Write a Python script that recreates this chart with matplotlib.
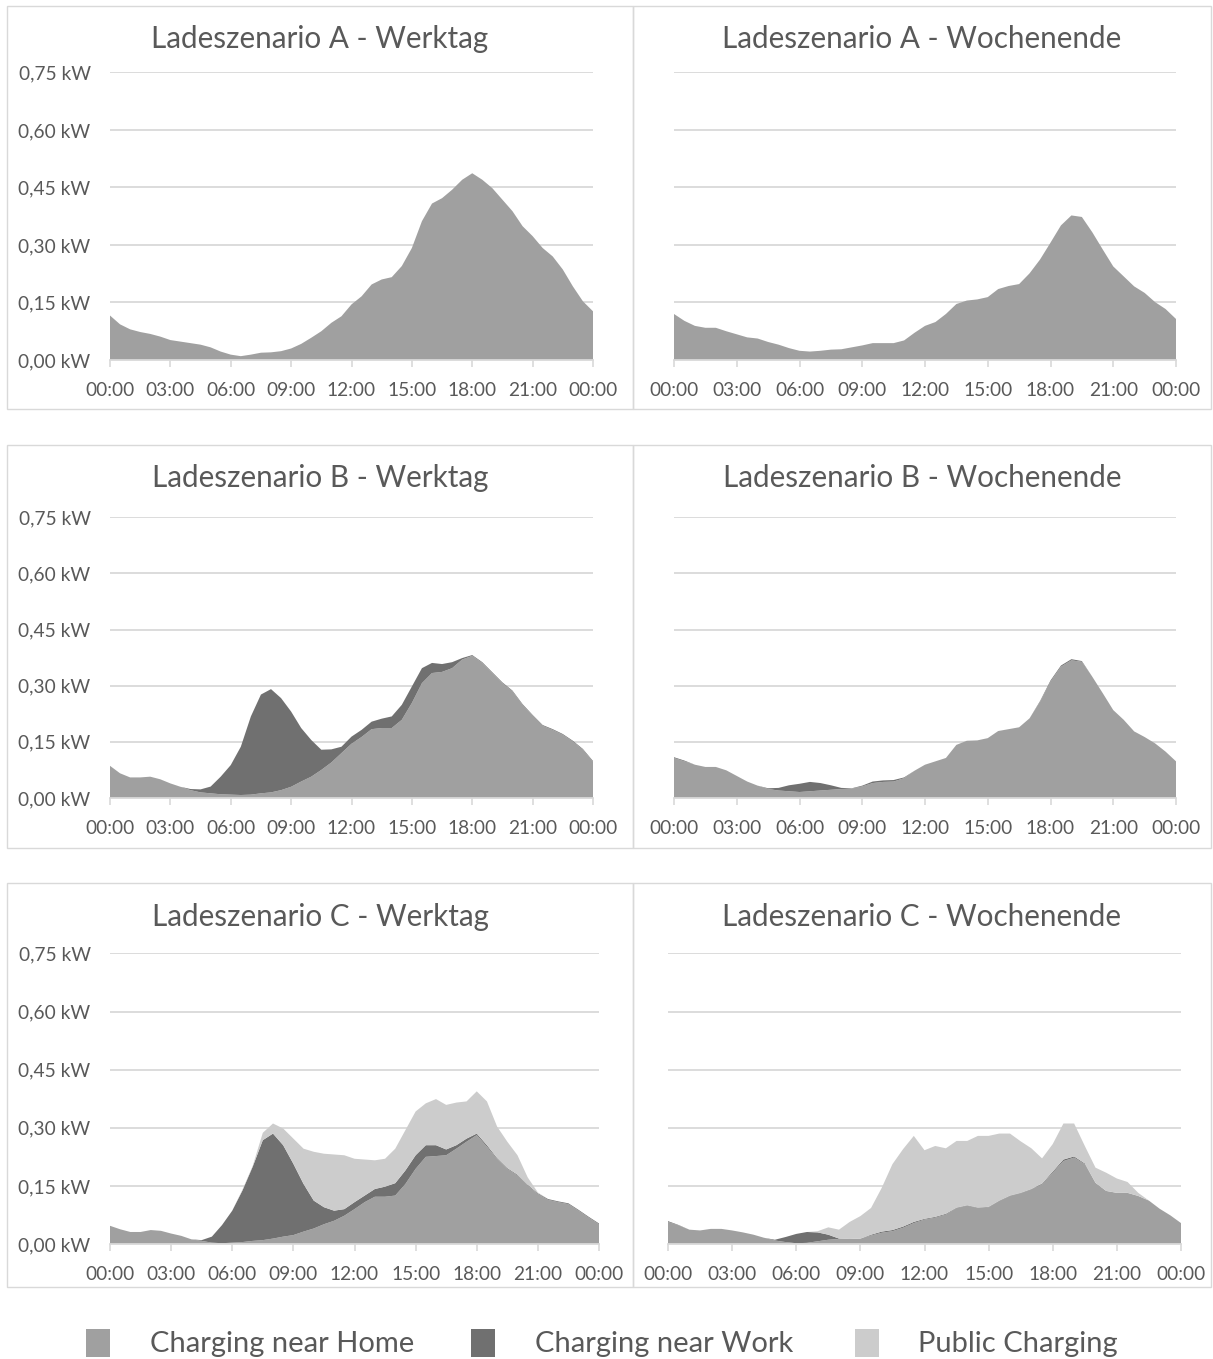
import numpy as np
import matplotlib
matplotlib.use("Agg")
import matplotlib.pyplot as plt
from matplotlib.patches import Rectangle

plt.rcParams['font.family'] = ['Lato', 'DejaVu Sans']

# ---------------- data (kW, every 30 minutes from 00:00 to 24:00) ----------------
hours = np.arange(0, 24.5, 0.5)
xtick_hours = [0, 3, 6, 9, 12, 15, 18, 21, 24]
xtick_labels = ["00:00", "03:00", "06:00", "09:00", "12:00", "15:00", "18:00", "21:00", "00:00"]
ytick_values = [0.0, 0.15, 0.30, 0.45, 0.60, 0.75]
ytick_labels = ["0,00 kW", "0,15 kW", "0,30 kW", "0,45 kW", "0,60 kW", "0,75 kW"]
series_names = ["Charging near Home", "Charging near Work", "Public Charging"]

titles = [["Ladeszenario A - Werktag", "Ladeszenario A - Wochenende"],
          ["Ladeszenario B - Werktag", "Ladeszenario B - Wochenende"],
          ["Ladeszenario C - Werktag", "Ladeszenario C - Wochenende"]]

A_werk_home = [0.116, 0.093, 0.080, 0.073, 0.068, 0.061, 0.052, 0.048, 0.044, 0.040, 0.033, 0.022,
               0.014, 0.010, 0.014, 0.019, 0.020, 0.023, 0.030, 0.042, 0.058, 0.075, 0.097, 0.114,
               0.145, 0.166, 0.197, 0.210, 0.216, 0.245, 0.292, 0.362, 0.408, 0.422, 0.444, 0.470,
               0.487, 0.470, 0.448, 0.418, 0.388, 0.349, 0.323, 0.292, 0.270, 0.236, 0.192, 0.153, 0.127]
A_werk_work = [0.0] * 49
A_werk_public = [0.0] * 49

A_woch_home = [0.120, 0.102, 0.089, 0.084, 0.084, 0.075, 0.067, 0.059, 0.056, 0.047, 0.040, 0.031,
               0.024, 0.022, 0.024, 0.027, 0.028, 0.033, 0.038, 0.044, 0.044, 0.044, 0.051, 0.071,
               0.089, 0.099, 0.120, 0.146, 0.155, 0.158, 0.164, 0.185, 0.193, 0.198, 0.226, 0.262,
               0.306, 0.351, 0.377, 0.373, 0.333, 0.288, 0.244, 0.218, 0.192, 0.175, 0.151, 0.133, 0.107]
A_woch_work = [0.0] * 49
A_woch_public = [0.0] * 49

B_werk_home = [0.086, 0.066, 0.055, 0.055, 0.057, 0.050, 0.039, 0.030, 0.021, 0.015, 0.0125, 0.010,
               0.009, 0.008, 0.009, 0.0125, 0.015, 0.021, 0.030, 0.044, 0.057, 0.075, 0.095, 0.120,
               0.145, 0.163, 0.184, 0.187, 0.187, 0.209, 0.254, 0.307, 0.334, 0.337, 0.347, 0.370,
               0.380, 0.361, 0.334, 0.307, 0.285, 0.249, 0.220, 0.193, 0.182, 0.169, 0.151, 0.129, 0.097]
B_werk_work = [0, 0, 0, 0, 0, 0, 0, 0, 0.003, 0.008, 0.018, 0.047,
               0.079, 0.129, 0.209, 0.264, 0.276, 0.246, 0.201, 0.143, 0.098, 0.054, 0.035, 0.017,
               0.019, 0.019, 0.020, 0.025, 0.031, 0.040, 0.044, 0.040, 0.027, 0.021, 0.016, 0.004,
               0.002, 0.002, 0.002, 0.002, 0.002, 0.002, 0.002, 0.002, 0.002, 0.002, 0.002, 0.002, 0.002]
B_werk_public = [0.0] * 49

B_woch_home = [0.107, 0.098, 0.089, 0.083, 0.083, 0.074, 0.059, 0.044, 0.033, 0.024, 0.020, 0.018,
               0.016, 0.018, 0.020, 0.022, 0.024, 0.025, 0.031, 0.040, 0.043, 0.044, 0.053, 0.073,
               0.089, 0.098, 0.107, 0.142, 0.153, 0.154, 0.160, 0.179, 0.184, 0.189, 0.213, 0.257,
               0.311, 0.351, 0.368, 0.364, 0.324, 0.280, 0.235, 0.209, 0.178, 0.163, 0.146, 0.124, 0.098]
B_woch_work = [0.002, 0.002, 0, 0, 0, 0, 0, 0, 0, 0.002, 0.007, 0.016,
               0.022, 0.025, 0.020, 0.012, 0.003, 0.001, 0.002, 0.004, 0.004, 0.004, 0.002, 0,
               0, 0, 0, 0, 0, 0, 0, 0, 0, 0, 0, 0.002,
               0.003, 0.003, 0.003, 0.002, 0, 0, 0, 0, 0, 0, 0, 0, 0]
B_woch_public = [0.0] * 49

C_werk_home = [0.047, 0.038, 0.031, 0.031, 0.036, 0.034, 0.027, 0.021, 0.012, 0.008, 0.0035, 0.002,
               0.0035, 0.005, 0.008, 0.010, 0.014, 0.019, 0.023, 0.032, 0.040, 0.051, 0.060, 0.073,
               0.090, 0.108, 0.122, 0.122, 0.125, 0.155, 0.194, 0.225, 0.227, 0.229, 0.246, 0.264,
               0.281, 0.251, 0.220, 0.194, 0.177, 0.151, 0.129, 0.114, 0.108, 0.103, 0.086, 0.068, 0.051]
C_werk_work = [0, 0, 0, 0, 0, 0, 0, 0, 0, 0.002, 0.0155, 0.047,
               0.0825, 0.133, 0.191, 0.258, 0.271, 0.236, 0.184, 0.123, 0.072, 0.044, 0.026, 0.017,
               0.018, 0.017, 0.020, 0.026, 0.032, 0.035, 0.035, 0.030, 0.028, 0.015, 0.009, 0.008,
               0.004, 0.004, 0.002, 0.002, 0.002, 0.002, 0.002, 0.002, 0.002, 0.002, 0.002, 0.002, 0.002]
C_werk_public = [0, 0, 0, 0, 0, 0, 0, 0, 0, 0, 0, 0,
                 0, 0.002, 0.002, 0.019, 0.026, 0.043, 0.065, 0.091, 0.126, 0.138, 0.145, 0.139,
                 0.112, 0.093, 0.074, 0.072, 0.089, 0.104, 0.113, 0.108, 0.119, 0.115, 0.110, 0.096,
                 0.109, 0.113, 0.081, 0.068, 0.050, 0.019, 0.002, 0, 0, 0, 0, 0, 0]

C_woch_home = [0.057, 0.048, 0.037, 0.035, 0.039, 0.039, 0.035, 0.030, 0.024, 0.016, 0.009, 0.005,
               0.002, 0.003, 0.007, 0.011, 0.013, 0.013, 0.014, 0.022, 0.029, 0.033, 0.042, 0.054,
               0.063, 0.068, 0.076, 0.093, 0.099, 0.093, 0.095, 0.111, 0.124, 0.131, 0.141, 0.154,
               0.184, 0.214, 0.223, 0.206, 0.158, 0.137, 0.132, 0.132, 0.124, 0.112, 0.091, 0.074, 0.054]
C_woch_work = [0.002, 0.001, 0, 0, 0, 0, 0, 0, 0, 0, 0.002, 0.013,
               0.024, 0.028, 0.023, 0.013, 0.001, 0, 0, 0.002, 0.003, 0.003, 0.003, 0.003,
               0.002, 0.002, 0.002, 0.001, 0.001, 0.001, 0.001, 0.001, 0.001, 0.001, 0.001, 0.002,
               0.003, 0.004, 0.003, 0.002, 0, 0, 0, 0, 0, 0, 0, 0, 0]
C_woch_public = [0, 0, 0, 0, 0, 0, 0, 0, 0, 0, 0, 0,
                 0, 0, 0.003, 0.019, 0.023, 0.044, 0.058, 0.069, 0.113, 0.170, 0.200, 0.222,
                 0.177, 0.183, 0.169, 0.172, 0.166, 0.185, 0.183, 0.173, 0.160, 0.133, 0.105, 0.065,
                 0.071, 0.093, 0.085, 0.045, 0.039, 0.047, 0.037, 0.028, 0.008, 0, 0, 0, 0]

panels = [[(A_werk_home, A_werk_work, A_werk_public), (A_woch_home, A_woch_work, A_woch_public)],
          [(B_werk_home, B_werk_work, B_werk_public), (B_woch_home, B_woch_work, B_woch_public)],
          [(C_werk_home, C_werk_work, C_werk_public), (C_woch_home, C_woch_work, C_woch_public)]]

# ---------------- styling / layout ----------------
colors = ["#a0a0a0", "#707070", "#cccccc"]
grid_c = "#d9d9d9"
text_c = "#595959"
W, H = 1213, 1359

fig = plt.figure(figsize=(W / 100, H / 100), dpi=100)

def fx(x):
    return x / W

def fy(y):
    return 1 - y / H

axes_px = [[(110, 72, 593, 360), (674, 72, 1176, 360)],
           [(110, 517, 593, 798), (674, 517, 1176, 798)],
           [(110, 953, 599, 1244), (668, 953, 1181, 1244)]]
box_rows = [(6, 409), (445, 848), (883, 1287)]
box_cols = [(7, 633), (633, 1211)]
title_y = [39, 478, 917]

for r in range(3):
    for c in range(2):
        x0, y0 = box_cols[c][0], box_rows[r][0]
        x1, y1 = box_cols[c][1], box_rows[r][1]
        fig.add_artist(Rectangle((fx(x0), fy(y1)), fx(x1 - x0), (y1 - y0) / H,
                                 transform=fig.transFigure, fill=False,
                                 edgecolor=grid_c, linewidth=1.0))
        fig.text(fx((x0 + x1) / 2), fy(title_y[r]), titles[r][c], ha="center", va="center",
                 fontsize=21.3, color=text_c)

        l, t, rr, b = axes_px[r][c]
        ax = fig.add_axes([fx(l), fy(b), fx(rr - l), (b - t) / H])
        home, work, public = panels[r][c]
        ax.stackplot(hours, home, work, public, colors=colors, linewidth=0)
        ax.set_xlim(0, 24)
        ax.set_ylim(0, 0.751)
        ax.set_axisbelow(True)
        ax.set_yticks(ytick_values)
        ax.grid(axis="y", color=grid_c, linewidth=1.3)
        for s in ["top", "right", "left"]:
            ax.spines[s].set_visible(False)
        ax.spines["bottom"].set_color(grid_c)
        ax.spines["bottom"].set_linewidth(1.3)
        ax.set_xticks(xtick_hours)
        ax.set_xticklabels(xtick_labels)
        ax.tick_params(axis="x", direction="out", length=5, width=1.2, color=grid_c,
                       labelsize=13.8, labelcolor=text_c, pad=11)
        if c == 0:
            ax.set_yticklabels(ytick_labels)
            ax.tick_params(axis="y", length=0, labelsize=13.8, labelcolor=text_c, pad=14)
        else:
            ax.tick_params(axis="y", length=0, labelleft=False)

# ---------------- legend ----------------
leg_sq_x = [86, 471, 855]
leg_txt_x = [150, 535, 918]
for i, name in enumerate(series_names):
    fig.add_artist(Rectangle((fx(leg_sq_x[i]), fy(1357)), fx(24), 28 / H,
                             transform=fig.transFigure, facecolor=colors[i], edgecolor="none"))
    fig.text(fx(leg_txt_x[i]), fy(1344), name, ha="left", va="center",
             fontsize=21, color=text_c)

fig.savefig("out.png", dpi=100)
